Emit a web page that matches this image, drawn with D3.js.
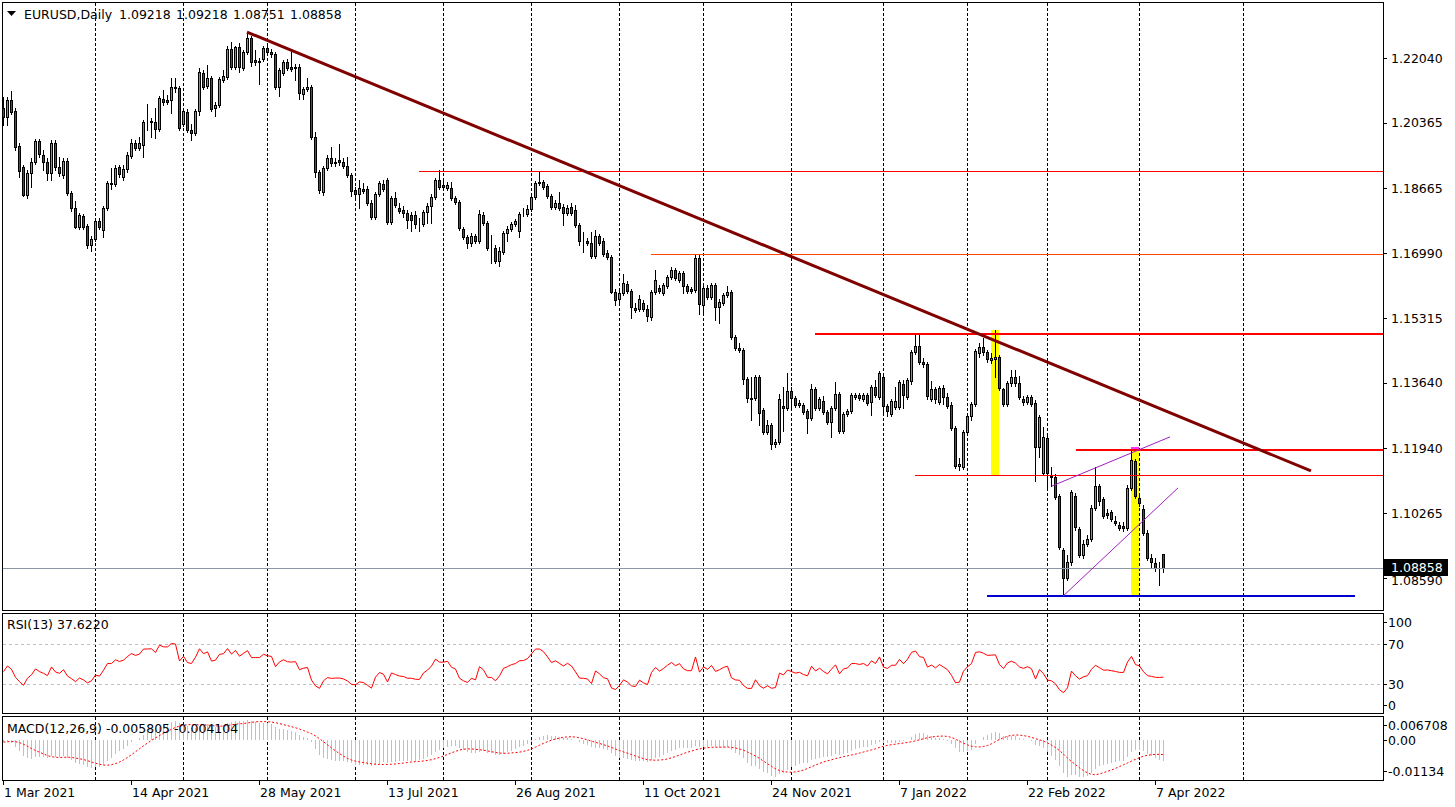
<!DOCTYPE html>
<html><head><meta charset="utf-8">
<script src="https://cdn.jsdelivr.net/npm/d3@7"></script>
<style>
html,body{margin:0;padding:0;background:#fff;}
svg{display:block;}
text{font-family:"DejaVu Sans",Verdana,sans-serif;font-size:12.5px;fill:#000;}
</style></head><body>
<svg id="c" width="1455" height="807"></svg>
<script>
// ---------------- DATA ----------------
const symbolText = "EURUSD,Daily";
const headerValues = ["1.09218","1.09218","1.08751","1.08858"];
const rsiLabel = "RSI(13) 37.6220";
const macdLabel = "MACD(12,26,9) -0.005805 -0.004104";
const currentPrice = 1.08858;

const open = [
1.2075,1.2051,1.2095,1.2067,1.1976,1.1922,1.1850,1.1906,1.1935,1.1989,
1.1953,1.1935,1.1906,1.1984,1.1922,1.1901,1.1938,1.1855,1.1816,1.1767,
1.1795,1.1769,1.1720,1.1736,1.1782,1.1759,1.1816,1.1878,1.1878,1.1922,
1.1896,1.1917,1.1950,1.1984,1.1971,1.1979,1.2038,1.2038,1.2038,1.2020,
1.2098,1.2095,1.2095,1.2129,1.2126,1.2033,1.2064,1.2018,1.2010,1.2067,
1.2165,1.2132,1.2152,1.2075,1.2082,1.2147,1.2155,1.2227,1.2181,1.2232,
1.2178,1.2219,1.2256,1.2199,1.2196,1.2201,1.2230,1.2219,1.2214,1.2129,
1.2165,1.2194,1.2181,1.2181,1.2181,1.2111,1.2124,1.2129,1.2000,1.1909,
1.1857,1.1919,1.1945,1.1932,1.1940,1.1935,1.1925,1.1901,1.1863,1.1852,
1.1865,1.1865,1.1829,1.1793,1.1852,1.1878,1.1888,1.1780,1.1842,1.1816,
1.1811,1.1803,1.1798,1.1798,1.1775,1.1775,1.1806,1.1821,1.1844,1.1888,
1.1875,1.1868,1.1868,1.1842,1.1831,1.1762,1.1741,1.1725,1.1744,1.1731,
1.1798,1.1777,1.1713,1.1713,1.1679,1.1702,1.1751,1.1762,1.1775,1.1756,
1.1800,1.1800,1.1813,1.1844,1.1883,1.1883,1.1873,1.1847,1.1819,1.1829,
1.1819,1.1803,1.1819,1.1811,1.1772,1.1731,1.1731,1.1725,1.1692,1.1744,
1.1731,1.1700,1.1689,1.1599,1.1581,1.1596,1.1619,1.1601,1.1557,1.1555,
1.1570,1.1555,1.1534,1.1599,1.1609,1.1596,1.1614,1.1638,1.1656,1.1630,
1.1648,1.1614,1.1607,1.1604,1.1687,1.1565,1.1609,1.1586,1.1617,1.1560,
1.1570,1.1591,1.1599,1.1482,1.1454,1.1449,1.1374,1.1324,1.1324,1.1379,
1.1293,1.1237,1.1255,1.1206,1.1211,1.1304,1.1299,1.1343,1.1324,1.1306,
1.1306,1.1291,1.1273,1.1348,1.1299,1.1317,1.1288,1.1262,1.1299,1.1335,
1.1239,1.1283,1.1291,1.1327,1.1332,1.1322,1.1332,1.1314,1.1353,1.1327,
1.1379,1.1304,1.1283,1.1301,1.1301,1.1361,1.1327,1.1368,1.1443,1.1459,
1.1418,1.1412,1.1322,1.1348,1.1314,1.1350,1.1327,1.1306,1.1247,1.1149,
1.1146,1.1237,1.1278,1.1309,1.1441,1.1456,1.1443,1.1423,1.1425,1.1431,
1.1348,1.1309,1.1363,1.1379,1.1363,1.1322,1.1314,1.1327,1.1312,1.1198,
1.1130,1.1221,1.1123,1.1120,1.1071,1.0931,1.0859,1.0900,1.1071,1.0986,
1.0918,1.0947,1.0960,1.1040,1.1097,1.1063,1.1027,1.1030,1.1006,1.0996,
1.0993,1.0988,1.1092,1.1162,1.1066,1.1037,1.0975,1.0911,1.0898,1.0885,
1.09218];

const high = [
1.2103,1.2103,1.2119,1.2075,1.1984,1.1927,1.1914,1.1945,1.1994,1.1994,
1.1966,1.1945,1.1992,1.1992,1.1948,1.1945,1.1945,1.1860,1.1834,1.1803,
1.1800,1.1775,1.1744,1.1788,1.1790,1.1821,1.1886,1.1919,1.1927,1.1927,
1.1927,1.1961,1.1994,1.1992,1.2000,1.2044,1.2085,1.2049,1.2075,1.2106,
1.2121,1.2108,1.2152,1.2152,1.2132,1.2075,1.2072,1.2033,1.2072,1.2178,
1.2173,1.2186,1.2157,1.2090,1.2155,1.2173,1.2235,1.2245,1.2235,1.2243,
1.2225,1.2271,1.2261,1.2225,1.2204,1.2235,1.2240,1.2227,1.2219,1.2178,
1.2199,1.2201,1.2225,1.2188,1.2188,1.2129,1.2152,1.2134,1.2013,1.1914,
1.1925,1.1953,1.1974,1.1945,1.1981,1.1945,1.1948,1.1906,1.1870,1.1888,
1.1881,1.1873,1.1837,1.1857,1.1886,1.1888,1.1894,1.1847,1.1857,1.1829,
1.1821,1.1811,1.1806,1.1808,1.1790,1.1811,1.1829,1.1852,1.1894,1.1914,
1.1888,1.1883,1.1883,1.1847,1.1837,1.1767,1.1746,1.1751,1.1749,1.1811,
1.1806,1.1782,1.1746,1.1720,1.1715,1.1756,1.1769,1.1780,1.1788,1.1806,
1.1816,1.1824,1.1850,1.1886,1.1912,1.1888,1.1878,1.1852,1.1837,1.1857,
1.1826,1.1824,1.1829,1.1824,1.1777,1.1754,1.1738,1.1754,1.1759,1.1749,
1.1738,1.1707,1.1694,1.1607,1.1604,1.1645,1.1627,1.1607,1.1570,1.1591,
1.1578,1.1565,1.1604,1.1656,1.1617,1.1622,1.1643,1.1663,1.1661,1.1653,
1.1653,1.1619,1.1612,1.1697,1.1697,1.1614,1.1617,1.1622,1.1622,1.1581,
1.1596,1.1614,1.1604,1.1487,1.1467,1.1454,1.1379,1.1379,1.1384,1.1384,
1.1299,1.1268,1.1260,1.1218,1.1335,1.1353,1.1389,1.1353,1.1330,1.1319,
1.1312,1.1296,1.1361,1.1353,1.1327,1.1330,1.1293,1.1304,1.1366,1.1340,
1.1288,1.1296,1.1337,1.1337,1.1337,1.1337,1.1337,1.1358,1.1371,1.1394,
1.1384,1.1309,1.1322,1.1353,1.1371,1.1371,1.1376,1.1449,1.1487,1.1487,
1.1428,1.1418,1.1368,1.1353,1.1355,1.1358,1.1337,1.1314,1.1252,1.1169,
1.1242,1.1283,1.1314,1.1451,1.1467,1.1480,1.1449,1.1441,1.1500,1.1436,
1.1350,1.1368,1.1397,1.1397,1.1381,1.1330,1.1332,1.1332,1.1319,1.1281,
1.1250,1.1226,1.1146,1.1128,1.1076,1.0936,1.0918,1.1087,1.1079,1.0991,
1.0957,1.0970,1.1048,1.1146,1.1102,1.1068,1.1037,1.1035,1.1019,1.1004,
1.1004,1.1099,1.1193,1.1167,1.1076,1.1048,1.0983,1.0921,1.0911,1.0900,
1.09218];

const low = [
1.2031,1.2031,1.2059,1.1966,1.1896,1.1847,1.1842,1.1870,1.1930,1.1948,
1.1914,1.1888,1.1888,1.1914,1.1899,1.1894,1.1850,1.1808,1.1764,1.1762,
1.1762,1.1713,1.1705,1.1731,1.1762,1.1741,1.1811,1.1865,1.1873,1.1896,
1.1888,1.1909,1.1945,1.1966,1.1966,1.1948,1.2018,1.2000,1.1997,1.2015,
1.2082,1.2085,1.2062,1.2116,1.2018,1.2028,1.2013,1.1992,1.2005,1.2057,
1.2124,1.2126,1.2067,1.2054,1.2077,1.2142,1.2150,1.2175,1.2175,1.2168,
1.2173,1.2214,1.2183,1.2186,1.2137,1.2196,1.2214,1.2207,1.2124,1.2106,
1.2160,1.2173,1.2170,1.2147,1.2098,1.2098,1.2119,1.1994,1.1896,1.1855,
1.1850,1.1914,1.1925,1.1925,1.1927,1.1919,1.1896,1.1847,1.1837,1.1816,
1.1855,1.1824,1.1788,1.1788,1.1847,1.1860,1.1775,1.1775,1.1819,1.1803,
1.1793,1.1764,1.1756,1.1764,1.1756,1.1769,1.1777,1.1777,1.1839,1.1865,
1.1863,1.1863,1.1837,1.1826,1.1759,1.1736,1.1713,1.1718,1.1725,1.1725,
1.1772,1.1707,1.1674,1.1674,1.1666,1.1697,1.1731,1.1756,1.1769,1.1741,
1.1795,1.1795,1.1808,1.1839,1.1875,1.1865,1.1842,1.1813,1.1813,1.1811,
1.1772,1.1798,1.1798,1.1767,1.1720,1.1702,1.1720,1.1687,1.1687,1.1720,
1.1692,1.1684,1.1596,1.1565,1.1570,1.1591,1.1596,1.1531,1.1547,1.1550,
1.1550,1.1524,1.1526,1.1594,1.1596,1.1591,1.1609,1.1632,1.1630,1.1625,
1.1596,1.1596,1.1596,1.1599,1.1542,1.1544,1.1581,1.1581,1.1526,1.1519,
1.1565,1.1586,1.1477,1.1449,1.1443,1.1361,1.1314,1.1268,1.1319,1.1255,
1.1231,1.1231,1.1193,1.1198,1.1206,1.1239,1.1293,1.1301,1.1301,1.1301,
1.1283,1.1234,1.1268,1.1293,1.1293,1.1283,1.1257,1.1224,1.1293,1.1234,
1.1234,1.1278,1.1286,1.1322,1.1319,1.1317,1.1306,1.1281,1.1327,1.1322,
1.1281,1.1278,1.1278,1.1296,1.1296,1.1299,1.1322,1.1361,1.1438,1.1412,
1.1405,1.1322,1.1317,1.1312,1.1309,1.1309,1.1299,1.1242,1.1143,1.1138,
1.1141,1.1231,1.1268,1.1304,1.1431,1.1436,1.1418,1.1415,1.1379,1.1345,
1.1304,1.1304,1.1355,1.1355,1.1322,1.1306,1.1309,1.1304,1.1110,1.1172,
1.1125,1.1087,1.1097,1.1063,1.0934,1.0812,1.0854,1.0893,1.0983,1.0913,
1.0911,1.0942,1.0955,1.1035,1.1048,1.1014,1.1014,1.1006,1.0996,1.0983,
1.0980,1.0983,1.1087,1.1066,1.1045,1.0970,1.0905,1.0887,1.0877,1.0841,
1.08751];

const close = [
1.2051,1.2095,1.2064,1.1974,1.1912,1.1850,1.1906,1.1935,1.1989,1.1956,
1.1935,1.1906,1.1984,1.1922,1.1906,1.1938,1.1855,1.1816,1.1767,1.1798,
1.1767,1.1720,1.1736,1.1782,1.1767,1.1816,1.1881,1.1881,1.1919,1.1904,
1.1917,1.1953,1.1984,1.1971,1.1984,1.2038,1.2039,1.2041,1.2020,1.2100,
1.2090,1.2090,1.2129,1.2126,1.2023,1.2067,1.2018,1.2010,1.2067,1.2168,
1.2129,1.2152,1.2072,1.2082,1.2150,1.2157,1.2227,1.2181,1.2232,1.2181,
1.2219,1.2256,1.2194,1.2194,1.2194,1.2230,1.2219,1.2214,1.2129,1.2173,
1.2194,1.2178,1.2175,1.2178,1.2113,1.2124,1.2129,1.2000,1.1909,1.1863,
1.1919,1.1945,1.1932,1.1935,1.1935,1.1925,1.1901,1.1860,1.1852,1.1868,
1.1860,1.1829,1.1793,1.1852,1.1881,1.1865,1.1780,1.1842,1.1824,1.1808,
1.1803,1.1785,1.1785,1.1775,1.1774,1.1806,1.1821,1.1844,1.1888,1.1870,
1.1870,1.1875,1.1842,1.1831,1.1764,1.1741,1.1725,1.1744,1.1731,1.1800,
1.1777,1.1713,1.1712,1.1679,1.1705,1.1751,1.1762,1.1775,1.1782,1.1800,
1.1801,1.1813,1.1844,1.1881,1.1881,1.1870,1.1847,1.1819,1.1829,1.1816,
1.1803,1.1816,1.1803,1.1772,1.1731,1.1730,1.1725,1.1692,1.1744,1.1725,
1.1697,1.1689,1.1599,1.1578,1.1596,1.1622,1.1601,1.1560,1.1552,1.1581,
1.1555,1.1537,1.1599,1.1630,1.1601,1.1617,1.1638,1.1656,1.1635,1.1648,
1.1614,1.1601,1.1601,1.1687,1.1568,1.1609,1.1586,1.1617,1.1560,1.1573,
1.1591,1.1599,1.1482,1.1454,1.1449,1.1374,1.1324,1.1323,1.1379,1.1286,
1.1237,1.1255,1.1206,1.1211,1.1322,1.1299,1.1343,1.1324,1.1306,1.1312,
1.1288,1.1273,1.1348,1.1299,1.1322,1.1288,1.1262,1.1299,1.1335,1.1239,
1.1283,1.1291,1.1332,1.1332,1.1324,1.1332,1.1312,1.1353,1.1332,1.1389,
1.1304,1.1291,1.1317,1.1317,1.1366,1.1332,1.1371,1.1443,1.1459,1.1418,
1.1412,1.1330,1.1348,1.1322,1.1350,1.1327,1.1304,1.1247,1.1149,1.1154,
1.1237,1.1278,1.1309,1.1446,1.1456,1.1443,1.1425,1.1428,1.1431,1.1350,
1.1309,1.1363,1.1379,1.1363,1.1327,1.1314,1.1327,1.1309,1.1198,1.1275,
1.1224,1.1130,1.1120,1.1068,1.0939,1.0859,1.0900,1.1081,1.0991,1.0918,
1.0947,1.0960,1.1040,1.1097,1.1058,1.1019,1.1022,1.1011,1.1001,1.0988,
1.0988,1.1092,1.1164,1.1071,1.1053,1.0975,1.0911,1.0900,1.0885,1.0884,
1.08858];

// closes before the first visible bar (Dec 2020 - Feb 2021): only used to warm up RSI / MACD
const warmupClose = [
1.2070,1.2114,1.2145,1.2121,1.2109,1.2105,1.2081,1.2136,1.2111,1.2147,1.2150,
1.2197,1.2265,1.2255,1.2240,1.2160,1.2192,1.2188,1.2215,1.2248,1.2298,1.2216,
1.2247,1.2297,1.2324,1.2270,1.2219,1.2151,1.2207,1.2157,1.2156,1.2081,1.2077,
1.2131,1.2106,1.2165,1.2170,1.2139,1.2160,1.2111,1.2120,1.2136,
1.2061,1.2042,1.2035,1.1963,1.2047,1.2051,1.2118,1.2119,1.2134,1.2119,1.2131,
1.2106,1.2041,1.2091,1.2118,1.2155,1.2150,1.2164,1.2174,1.2075];

const priceTicks = [1.22040,1.20365,1.18665,1.16990,1.15315,1.13640,1.11940,1.10265,1.08590];
const rsiTicks = [100,70,30,0];
const rsiLevels = [70,30];
const macdTicks = [0.006708,0.00,-0.01134];
const timeTickLabels = ["1 Mar 2021","14 Apr 2021","28 May 2021","13 Jul 2021","26 Aug 2021",
  "11 Oct 2021","24 Nov 2021","7 Jan 2022","22 Feb 2022","7 Apr 2022"];
const timeTickEvery = 32;   // bars between time labels

// drawn objects (prices and bar numbers)
const levelPrice = [1.1913,1.1697,1.1492,1.1125,1.1193,1.0815];
const levelFromBar = [104,162,203,228,268.25,246];
const levelToBar = [345,345,345,345,345,338];
const trendBars = [61,327];
const trendPrices = [1.2271,1.1136];
const channelUpperBars = [262.25,291.75], channelUpperPrices = [1.1097,1.1224];
const channelLowerBars = [265,293.75], channelLowerPrices = [1.0812,1.1092];
const highlightBar = [248,283];
const highlightTop = [1.1500,1.1193];
const highlightBottom = [1.1125,1.0812];

// ---------------- checks ----------------
const N = close.length;
[open,high,low].forEach(a=>{ if(a.length!==N) throw new Error("length mismatch "+a.length+" vs "+N); });

// ---------------- indicators ----------------
const allC = warmupClose.concat(close);
const W0 = warmupClose.length;
function rsiCalc(src,n){
  const out=new Array(src.length).fill(null);
  let ag=0,al=0;
  for(let i=1;i<=n;i++){const d=src[i]-src[i-1]; if(d>0)ag+=d; else al-=d;}
  ag/=n; al/=n; out[n]=al===0?100:100-100/(1+ag/al);
  for(let i=n+1;i<src.length;i++){const d=src[i]-src[i-1];
    ag=(ag*(n-1)+Math.max(d,0))/n; al=(al*(n-1)+Math.max(-d,0))/n;
    out[i]=al===0?100:100-100/(1+ag/al);}
  return out;
}
function ema(src,n){const k=2/(n+1);let e=src[0];return src.map(v=>(e=e+k*(v-e)));}
const e12=ema(allC,12), e26=ema(allC,26);
const macdAll=allC.map((v,i)=>e12[i]-e26[i]);
const sigAll=macdAll.map((v,i)=>i<8?null:d3.mean(macdAll.slice(i-8,i+1)));
const rsi=rsiCalc(allC,13).slice(W0);
const macd=macdAll.slice(W0);
const signal=sigAll.slice(W0);

// ---------------- layout ----------------
const svg=d3.select("#c");
const PL=2, PR=1383;
const P={main:[2,610],rsi:[613,713],macd:[716,780]};
const x=d3.scaleLinear().domain([0,345]).range([3,1383]);
const px=i=>Math.round(x(i));
const yP=d3.scaleLinear().domain([priceTicks[8],priceTicks[0]]).range([578,58]);
const yR=d3.scaleLinear().domain([0,100]).range([714,614]);
const yM=d3.scaleLinear().domain([macdTicks[2],macdTicks[0]]).range([780,717]);

const defs=svg.append("defs");
Object.entries(P).forEach(([k,[t,b]])=>{
  defs.append("clipPath").attr("id","clip-"+k).append("rect")
    .attr("x",PL+1).attr("y",t+1).attr("width",PR-PL-1).attr("height",b-t-1);
});

// dates: trading days, then calendar days for the future area
const dates=[];
{let d=new Date(Date.UTC(2021,2,1));
 while(dates.length<N){const wd=d.getUTCDay(); if(wd!==0&&wd!==6)dates.push(new Date(d)); d=new Date(d.getTime()+864e5);}
 for(let k=N;k<=320;k++) dates.push(new Date(dates[N-1].getTime()+(k-N+1)*864e5));}
const monthStarts=[];
for(let i=1;i<dates.length;i++) if(dates[i].getUTCMonth()!==dates[i-1].getUTCMonth()) monthStarts.push(i);

// grid (dashed vertical lines)
Object.entries(P).forEach(([k,[t,b]])=>{
  svg.append("g").attr("shape-rendering","crispEdges").selectAll("line").data(monthStarts).join("line")
    .attr("x1",i=>px(i)+0.5).attr("x2",i=>px(i)+0.5).attr("y1",t+1).attr("y2",b)
    .attr("stroke","#000").attr("stroke-dasharray","3,2");
});

// RSI levels
svg.append("g").attr("shape-rendering","crispEdges").selectAll("line").data(rsiLevels).join("line")
  .attr("x1",PL+1).attr("x2",PR).attr("y1",d=>Math.round(yR(d))+0.5).attr("y2",d=>Math.round(yR(d))+0.5)
  .attr("stroke","#c0c0c0").attr("stroke-dasharray","3,3");

// main panel
const gm=svg.append("g").attr("clip-path","url(#clip-main)");
// highlight boxes (background)
gm.append("g").attr("shape-rendering","crispEdges").selectAll("rect").data(highlightBar).join("rect")
  .attr("x",(b)=>px(b)-4).attr("width",8)
  .attr("y",(b,i)=>Math.round(yP(highlightTop[i]))).attr("height",(b,i)=>Math.round(yP(highlightBottom[i]))-Math.round(yP(highlightTop[i])))
  .attr("fill","#ffff00");
gm.append("rect").attr("shape-rendering","crispEdges").attr("x",px(highlightBar[1])-4).attr("width",8)
  .attr("y",Math.round(yP(highlightTop[1]))-2).attr("height",3).attr("fill","#ff33ff");

// candles
const idx=d3.range(N);
const gc=gm.append("g").attr("shape-rendering","crispEdges");
gc.selectAll("line").data(idx).join("line")
  .attr("x1",i=>px(i)+0.5).attr("x2",i=>px(i)+0.5)
  .attr("y1",i=>Math.round(yP(high[i]))).attr("y2",i=>Math.round(yP(low[i]))+1)
  .attr("stroke","#000");
gc.selectAll("rect").data(idx).join("rect")
  .attr("x",i=>px(i)-0.5).attr("width",2)
  .attr("y",i=>Math.round(yP(Math.max(open[i],close[i])))+0.5)
  .attr("height",i=>Math.round(yP(Math.min(open[i],close[i])))-Math.round(yP(Math.max(open[i],close[i]))))
  .attr("fill",i=>close[i]>=open[i]?"#32cd32":"#e01010")
  .attr("stroke","#000").attr("stroke-width",1);

// current price line
gm.append("line").attr("shape-rendering","crispEdges")
  .attr("x1",PL+1).attr("x2",PR).attr("y1",Math.round(yP(currentPrice))+0.5).attr("y2",Math.round(yP(currentPrice))+0.5)
  .attr("stroke","#8a96a3");

// horizontal levels
const levelColor=["#ff0000","#ff4500","#ff0000","#ff0000","#ff0000","#0000cd"];
const levelWidth=[1,1,2,1,2,2];
gm.append("g").attr("shape-rendering","crispEdges").selectAll("line").data(levelPrice).join("line")
  .attr("x1",(p,i)=>x(levelFromBar[i])).attr("x2",(p,i)=>x(levelToBar[i]))
  .attr("y1",p=>Math.round(yP(p))+0.5).attr("y2",p=>Math.round(yP(p))+0.5)
  .attr("stroke",(p,i)=>levelColor[i]).attr("stroke-width",(p,i)=>levelWidth[i]);

// channel lines
const seg=(bars,prices)=>bars.map((b,i)=>[x(b),yP(prices[i])]);
gm.append("path").attr("d",d3.line()(seg(channelUpperBars,channelUpperPrices)))
  .attr("stroke","#a020c0").attr("fill","none").attr("stroke-width",1);
gm.append("path").attr("d",d3.line()(seg(channelLowerBars,channelLowerPrices)))
  .attr("stroke","#a020c0").attr("fill","none").attr("stroke-width",1);
// trendline
gm.append("path").attr("d",d3.line()(seg(trendBars,trendPrices)))
  .attr("stroke","#800000").attr("fill","none").attr("stroke-width",3);

// RSI
svg.append("g").attr("clip-path","url(#clip-rsi)").append("path")
  .attr("d",d3.line().x((d,i)=>px(i)+0.5).y(d=>yR(d))(rsi))
  .attr("fill","none").attr("stroke","#ff0000").attr("stroke-width",1);

// MACD
const gmacd=svg.append("g").attr("clip-path","url(#clip-macd)");
gmacd.append("g").attr("shape-rendering","crispEdges").selectAll("line").data(idx).join("line")
  .attr("x1",i=>px(i)+0.5).attr("x2",i=>px(i)+0.5)
  .attr("y1",Math.round(yM(0))).attr("y2",i=>Math.round(yM(macd[i])))
  .attr("stroke","#c0c0c0");
gmacd.append("path")
  .attr("d",d3.line().defined(d=>d!==null).x((d,i)=>px(i)+0.5).y(d=>yM(d))(signal))
  .attr("fill","none").attr("stroke","#ff0000").attr("stroke-width",1).attr("stroke-dasharray","2,2");

// frames
Object.values(P).forEach(([t,b])=>{
  svg.append("rect").attr("shape-rendering","crispEdges").attr("x",PL+0.5).attr("y",t+0.5)
    .attr("width",PR-PL).attr("height",b-t).attr("fill","none").attr("stroke","#000");
});

// price axis
const ga=svg.append("g");
ga.selectAll("line").data(priceTicks).join("line").attr("shape-rendering","crispEdges")
  .attr("x1",PR).attr("x2",PR+4).attr("y1",d=>Math.round(yP(d))+0.5).attr("y2",d=>Math.round(yP(d))+0.5).attr("stroke","#000");
ga.selectAll("text").data(priceTicks).join("text")
  .attr("x",1391).attr("y",d=>yP(d)+(d===priceTicks[8]?2:0)).attr("dy","0.36em").text(d=>d.toFixed(5));
// current price tag
svg.append("rect").attr("x",1384).attr("y",Math.round(yP(currentPrice))-9).attr("width",64).attr("height",17).attr("fill","#000");
svg.append("text").attr("x",1391).attr("y",yP(currentPrice)).attr("dy","0.36em").style("fill","#fff").text(currentPrice.toFixed(5));

// RSI axis
const clampY=(v,t,b)=>Math.max(t+9,Math.min(b-9,v));
svg.append("g").selectAll("text").data(rsiTicks).join("text")
  .attr("x",1388).attr("y",d=>clampY(yR(d),613,714)).attr("dy","0.36em").text(d=>d);
svg.append("g").selectAll("line").data(rsiTicks).join("line").attr("shape-rendering","crispEdges")
  .attr("x1",PR).attr("x2",PR+4).attr("y1",d=>Math.round(clampY(yR(d),613,714))+0.5).attr("y2",d=>Math.round(clampY(yR(d),613,714))+0.5).attr("stroke","#000");
// MACD axis
svg.append("g").selectAll("text").data(macdTicks).join("text")
  .attr("x",1388).attr("y",d=>clampY(yM(d),716,780)).attr("dy","0.36em").text(d=>d===0?"0.00":String(d));
svg.append("g").selectAll("line").data(macdTicks).join("line").attr("shape-rendering","crispEdges")
  .attr("x1",PR).attr("x2",PR+4).attr("y1",d=>Math.round(clampY(yM(d),716,780))+0.5).attr("y2",d=>Math.round(clampY(yM(d),716,780))+0.5).attr("stroke","#000");

// time axis
const tg=svg.append("g");
tg.selectAll("line").data(timeTickLabels).join("line").attr("shape-rendering","crispEdges")
  .attr("x1",(d,k)=>px(k*timeTickEvery)+0.5).attr("x2",(d,k)=>px(k*timeTickEvery)+0.5)
  .attr("y1",781).attr("y2",785).attr("stroke","#000");
tg.selectAll("text").data(timeTickLabels).join("text")
  .attr("x",(d,k)=>px(k*timeTickEvery)+1).attr("y",797).text(d=>d);

// titles
svg.append("path").attr("d","M7,11 L16,11 L11.5,16 Z").attr("fill","#000");
svg.append("text").attr("x",24).attr("y",19).text(symbolText);
svg.append("g").selectAll("text").data(headerValues).join("text")
  .attr("x",(d,k)=>119+k*57).attr("y",19).text(d=>d);
svg.append("text").attr("x",7).attr("y",629).text(rsiLabel);
svg.append("text").attr("x",7).attr("y",733).text(macdLabel);
</script>
</body></html>
